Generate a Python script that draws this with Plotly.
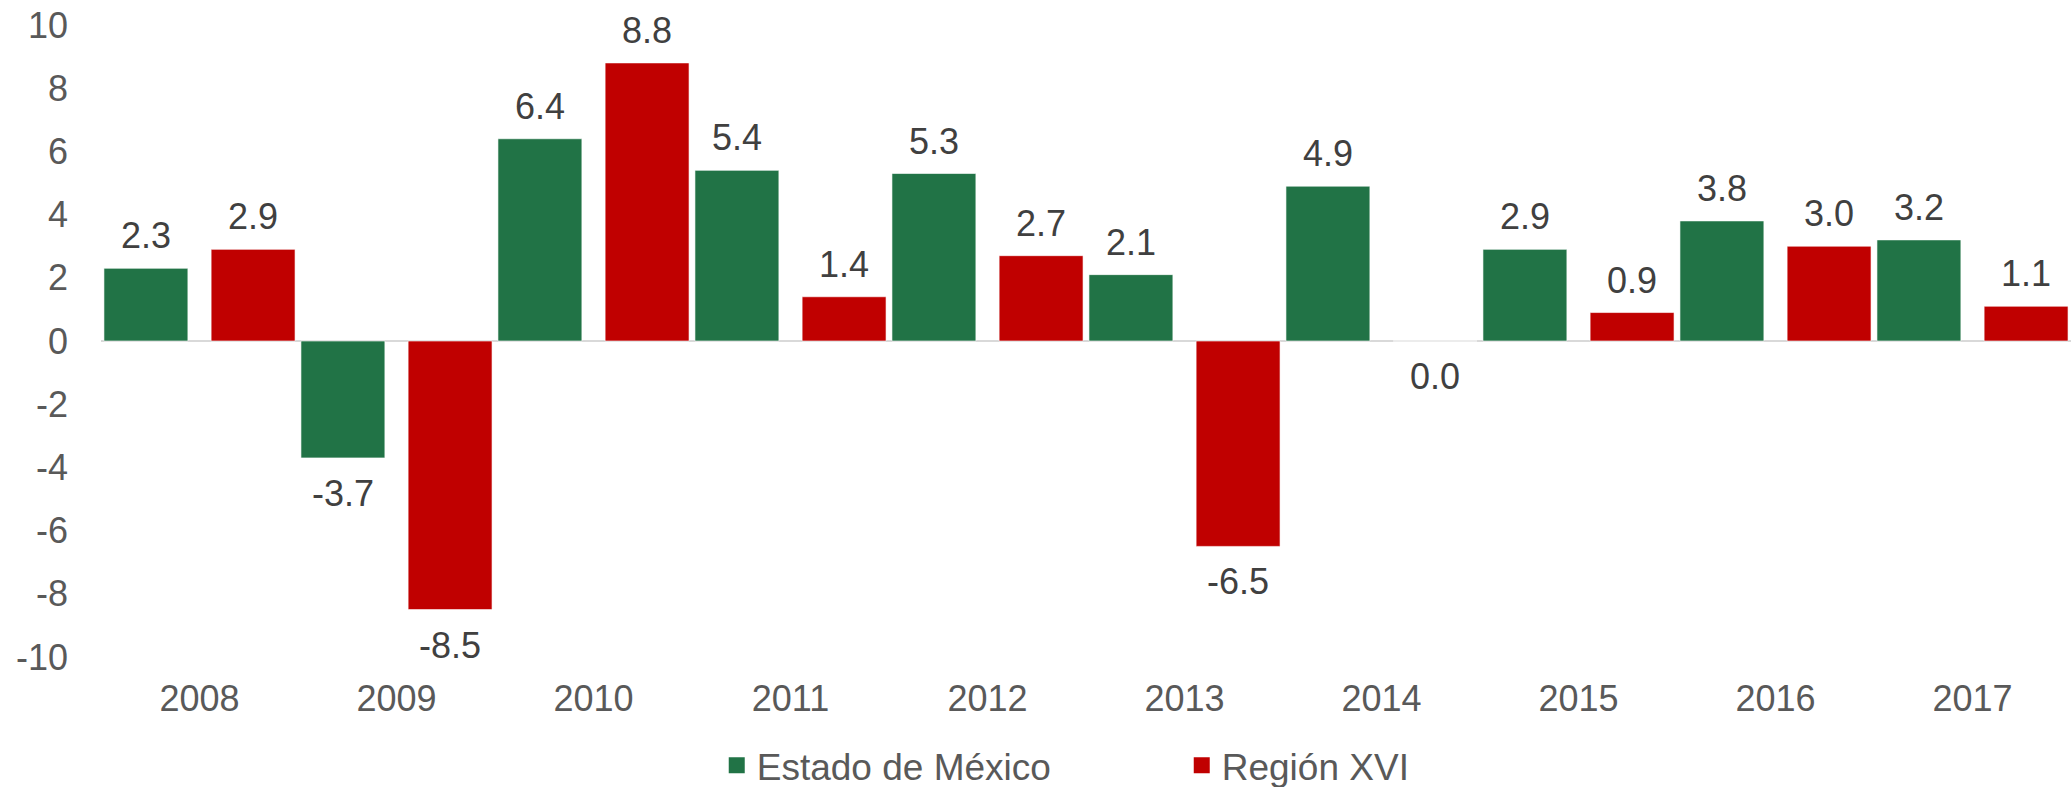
import plotly.graph_objects as go

years = ["2008", "2009", "2010", "2011", "2012", "2013", "2014", "2015", "2016", "2017"]
estado = [2.3, -3.7, 6.4, 5.4, 5.3, 2.1, 4.9, 2.9, 3.8, 3.2]
region = [2.9, -8.5, 8.8, 1.4, 2.7, -6.5, 0.0, 0.9, 3.0, 1.1]
y_ticks = [-10, -8, -6, -4, -2, 0, 2, 4, 6, 8, 10]
y_ticktext = [str(v) for v in y_ticks]

FONT = "Liberation Sans, Arial, sans-serif"
GREEN = "#217346"
RED = "#C00000"
LABEL_COLOR = "#404040"
TICK_COLOR = "#595959"

W, H = 2072, 787
ML, MR, MT, MB = 101, 1, 25, 130
BAR_W = 0.426
OFFSETS = {"Estado de México": -0.485, "Región XVI": 0.059}
cat_px = (W - ML - MR) / len(years)

fig = go.Figure()
series = [("Estado de México", estado, GREEN), ("Región XVI", region, RED)]
for name, vals, col in series:
    fig.add_trace(go.Bar(
        x=years, y=vals, name=name, showlegend=False,
        marker=dict(color=col, line=dict(color="rgba(255,255,255,0.6)", width=1)),
        width=BAR_W, offset=OFFSETS[name],
        hoverinfo="x+y",
    ))
    # legend proxy with larger square swatch
    fig.add_trace(go.Scatter(
        x=[None], y=[None], mode="markers", name=name,
        marker=dict(symbol="square", size=18, color=col),
    ))
    xshift = (OFFSETS[name] + BAR_W / 2) * cat_px
    for i, v in enumerate(vals):
        pos = v > 0
        fig.add_annotation(
            x=i, y=v, xref="x", yref="y", text=f"{v:.1f}", showarrow=False,
            xshift=xshift, yshift=10 if pos else -13,
            yanchor="bottom" if pos else "top", xanchor="center",
            font=dict(family=FONT, size=36, color=LABEL_COLOR),
        )

fig.update_layout(
    width=W, height=H,
    margin=dict(l=ML, r=MR, t=MT, b=MB, autoexpand=False),
    paper_bgcolor="white", plot_bgcolor="white",
    barmode="overlay",
    font=dict(family=FONT, size=36, color=TICK_COLOR),
    showlegend=True,
    legend=dict(orientation="h", x=0.5486, xanchor="center", y=-0.172, yanchor="middle",
                font=dict(family=FONT, size=37, color=TICK_COLOR),
                entrywidth=420, entrywidthmode="pixels"),
    xaxis=dict(type="category", range=[-0.5, 9.5], showgrid=False, showline=False,
               zeroline=False, ticks="",
               tickfont=dict(family=FONT, size=36, color=TICK_COLOR),
               ticklabelstandoff=17),
    yaxis=dict(range=[-10, 10], tickvals=y_ticks, ticktext=y_ticktext,
               showgrid=False, showline=False,
               zeroline=True, zerolinecolor="#D9D9D9", zerolinewidth=2,
               ticks="", tickfont=dict(family=FONT, size=36, color=TICK_COLOR),
               ticklabelstandoff=32),
)

fig.write_html("out.html", config={"displayModeBar": False},
               post_script="document.body.style.margin='0';")
